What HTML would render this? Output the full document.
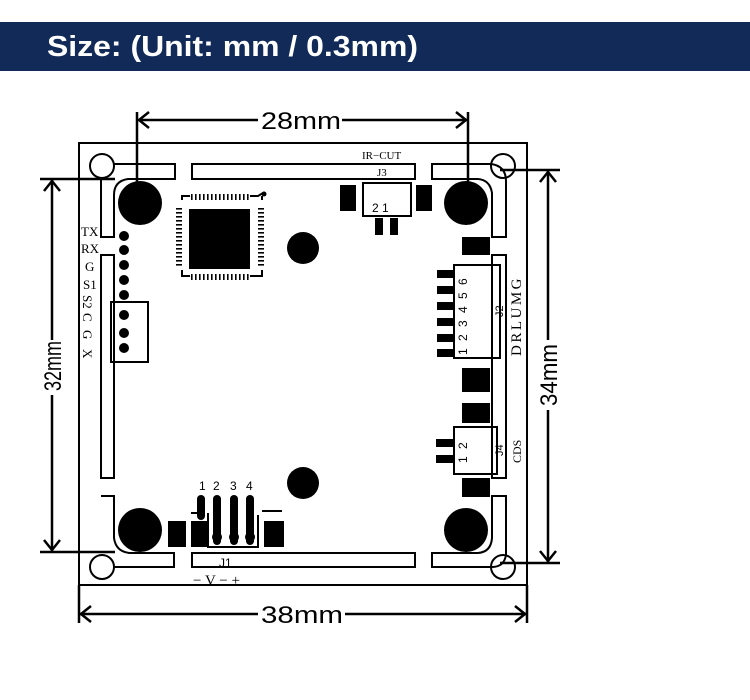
<!DOCTYPE html>
<html><head><meta charset="utf-8"><style>
html,body{margin:0;padding:0;background:#fff;}
svg{display:block}
</style></head><body>
<svg width="750" height="700" viewBox="0 0 750 700" xmlns="http://www.w3.org/2000/svg" font-family="Liberation Sans, sans-serif">
<rect x="0" y="22" width="750" height="49" fill="#112a58"/>
<text x="47" y="56" fill="#fff" font-size="29" font-weight="bold" textLength="371" lengthAdjust="spacingAndGlyphs">Size: (Unit: mm / 0.3mm)</text>

<g fill="none" stroke="#000" stroke-width="2">
<rect x="79" y="143" width="448" height="442"/>
<circle cx="102" cy="166" r="12"/>
<circle cx="503" cy="166" r="12"/>
<circle cx="102" cy="567" r="12"/>
<circle cx="503" cy="567" r="12"/>
<path d="M114 164 H175 V179 H128 Q114 181 114 195 V237 H101 V179"/>
<rect x="192" y="164" width="223" height="15"/>
<path d="M432 164 H491 Q506 166 506 181 V237 H492 V193 Q490 180 478 179 H432 Z"/>
<rect x="101" y="255" width="13" height="223"/>
<rect x="492" y="255" width="14" height="223"/>
<path d="M101 496 H114 V538 Q116 552 130 553 H174 V567 H114"/>
<rect x="192" y="553" width="223" height="14"/>
<path d="M432 553 H478 Q491 552 492 538 V496 H506 V555 Q504 567 492 567 H432 Z"/>
<path d="M182 200 V196 H190 M250 196 H258 L263 193 M262 200 V196 M182 270 V276 H190 M250 276 H262 V270"/>
<rect x="111" y="302" width="37" height="60"/>
<rect x="363" y="183" width="48" height="33"/>
<rect x="454" y="265" width="46" height="93"/>
<rect x="454" y="427" width="43" height="47"/>
<path d="M191 513 H203 M208 513 V547 H258 V515 M262 511 H282"/>
</g>

<g stroke="#000" stroke-width="2.5" fill="none">
<line x1="137" y1="120" x2="258" y2="120"/><line x1="342" y1="120" x2="468" y2="120"/>
<line x1="137" y1="112" x2="137" y2="185"/><line x1="468" y1="112" x2="468" y2="185"/>
<path d="M149 112 L139 120 L149 128"/><path d="M456 112 L466 120 L456 128"/>
<line x1="52" y1="179" x2="52" y2="340"/><line x1="52" y1="395" x2="52" y2="552"/>
<line x1="40" y1="179" x2="115" y2="179"/><line x1="40" y1="552" x2="115" y2="552"/>
<path d="M44 191 L52 181 L60 191"/><path d="M44 540 L52 550 L60 540"/>
<line x1="548" y1="170" x2="548" y2="340"/><line x1="548" y1="410" x2="548" y2="563"/>
<line x1="500" y1="170" x2="560" y2="170"/><line x1="500" y1="563" x2="560" y2="563"/>
<path d="M540 182 L548 172 L556 182"/><path d="M540 551 L548 561 L556 551"/>
<line x1="79" y1="614" x2="258" y2="614"/><line x1="345" y1="614" x2="527" y2="614"/>
<line x1="79" y1="585" x2="79" y2="623"/><line x1="527" y1="585" x2="527" y2="623"/>
<path d="M91 606 L81 614 L91 622"/><path d="M515 606 L525 614 L515 622"/>
</g>
<g font-size="24" fill="#000" text-anchor="middle">
<text x="301" y="129" textLength="80" lengthAdjust="spacingAndGlyphs">28mm</text>
<text x="302" y="623" textLength="82" lengthAdjust="spacingAndGlyphs">38mm</text>
<text transform="translate(61,366) rotate(-90)" textLength="50" lengthAdjust="spacingAndGlyphs">32mm</text>
<text transform="translate(557,375) rotate(-90)" textLength="62" lengthAdjust="spacingAndGlyphs">34mm</text>
</g>

<g fill="#000">
<circle cx="140" cy="203" r="22"/><circle cx="466" cy="203" r="22"/>
<circle cx="140" cy="530" r="22"/><circle cx="466" cy="530" r="22"/>
<circle cx="303" cy="248" r="16"/><circle cx="303" cy="483" r="16"/>
<rect x="189" y="209" width="61" height="60"/>
<circle cx="264" cy="194" r="2.5"/>
<g id="pt">
<rect x="191" y="194" width="1.6" height="6"/><rect x="195" y="194" width="1.6" height="6"/><rect x="199" y="194" width="1.6" height="6"/><rect x="203" y="194" width="1.6" height="6"/><rect x="207" y="194" width="1.6" height="6"/><rect x="211" y="194" width="1.6" height="6"/><rect x="215" y="194" width="1.6" height="6"/><rect x="219" y="194" width="1.6" height="6"/><rect x="223" y="194" width="1.6" height="6"/><rect x="227" y="194" width="1.6" height="6"/><rect x="231" y="194" width="1.6" height="6"/><rect x="235" y="194" width="1.6" height="6"/><rect x="239" y="194" width="1.6" height="6"/><rect x="243" y="194" width="1.6" height="6"/><rect x="247" y="194" width="1.6" height="6"/>
</g>
<use href="#pt" y="80"/>
<g id="pl">
<rect x="176" y="208" width="6" height="1.6"/><rect x="176" y="212" width="6" height="1.6"/><rect x="176" y="216" width="6" height="1.6"/><rect x="176" y="220" width="6" height="1.6"/><rect x="176" y="224" width="6" height="1.6"/><rect x="176" y="228" width="6" height="1.6"/><rect x="176" y="232" width="6" height="1.6"/><rect x="176" y="236" width="6" height="1.6"/><rect x="176" y="240" width="6" height="1.6"/><rect x="176" y="244" width="6" height="1.6"/><rect x="176" y="248" width="6" height="1.6"/><rect x="176" y="252" width="6" height="1.6"/><rect x="176" y="256" width="6" height="1.6"/><rect x="176" y="260" width="6" height="1.6"/><rect x="176" y="264" width="6" height="1.6"/>
</g>
<use href="#pl" x="82"/>
<circle cx="124" cy="236" r="5"/><circle cx="124" cy="250" r="5"/><circle cx="124" cy="265" r="5"/><circle cx="124" cy="280" r="5"/><circle cx="124" cy="295" r="5"/><circle cx="124" cy="315" r="5"/><circle cx="124" cy="333" r="5"/><circle cx="124" cy="348" r="5"/>
<rect x="340" y="185" width="16" height="26"/><rect x="416" y="185" width="16" height="26"/>
<rect x="375" y="218" width="8" height="17"/><rect x="390" y="218" width="8" height="17"/>
<rect x="462" y="237" width="28" height="18"/>
<rect x="437" y="270" width="18" height="8"/><rect x="437" y="286" width="18" height="8"/><rect x="437" y="302" width="18" height="8"/><rect x="437" y="318" width="18" height="8"/><rect x="437" y="334" width="18" height="8"/><rect x="437" y="349" width="18" height="8"/>
<rect x="462" y="368" width="28" height="24"/><rect x="462" y="403" width="28" height="20"/>
<rect x="436" y="439" width="17" height="8"/><rect x="436" y="455" width="17" height="8"/>
<rect x="462" y="478" width="28" height="19"/>
<rect x="168" y="521" width="18" height="26"/><rect x="191" y="521" width="17" height="26"/><rect x="264" y="521" width="20" height="26"/>
<rect x="197" y="495" width="8" height="25" rx="4"/>
<rect x="213" y="495" width="8" height="50" rx="4"/><circle cx="217" cy="537" r="5"/>
<rect x="230" y="495" width="8" height="50" rx="4"/><circle cx="234" cy="537" r="5"/>
<rect x="246" y="495" width="8" height="50" rx="4"/><circle cx="250" cy="537" r="5"/>
</g>

<g font-family="Liberation Serif, serif" font-size="13" fill="#000">
<text x="81" y="236">TX</text><text x="81" y="253">RX</text>
<text x="85" y="271">G</text><text x="83" y="289">S1</text>
<text transform="translate(83,295) rotate(90)">S2</text>
<text transform="translate(83,313) rotate(90)">C</text>
<text transform="translate(83,330) rotate(90)">G</text>
<text transform="translate(83,349) rotate(90)">X</text>
<text x="362" y="159" font-size="11">IR−CUT</text>
<text x="377" y="176" font-size="11">J3</text>
<text transform="translate(521,356) rotate(-90)" font-size="15" letter-spacing="2.5">DRLUMG</text>
<text transform="translate(521,463) rotate(-90)" font-size="12">CDS</text>
<text x="193" y="585" font-size="15">− V − +</text>
</g>
<g font-family="Liberation Sans, sans-serif" font-size="11" fill="#000">
<text x="372" y="212" font-size="12">2 1</text>
<text transform="translate(467,355) rotate(-90)" letter-spacing="2" font-size="12">1 2 3 4 5 6</text>
<text transform="translate(503,317) rotate(-90)">J2</text>
<text transform="translate(503,456) rotate(-90)">J4</text>
<text transform="translate(467,463) rotate(-90)" letter-spacing="2" font-size="12">1 2</text>
<text x="199" y="490" font-size="12">1</text><text x="213" y="490" font-size="12">2</text><text x="230" y="490" font-size="12">3</text><text x="246" y="490" font-size="12">4</text>
<text x="219" y="567" font-size="12">J1</text>
</g>
</svg>
</body></html>
